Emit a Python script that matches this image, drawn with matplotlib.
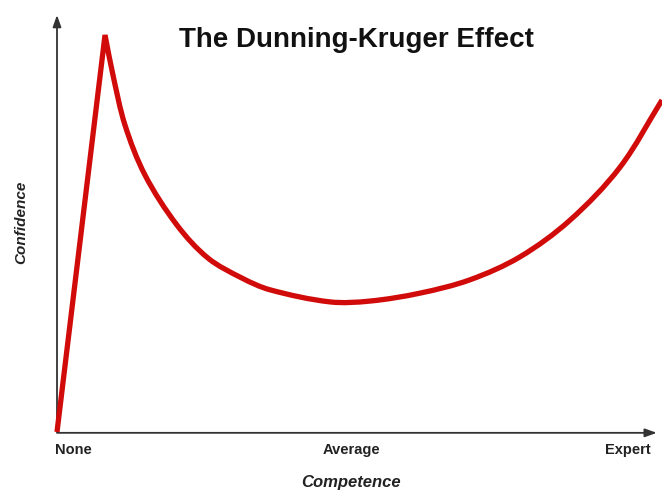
import matplotlib
matplotlib.use("Agg")
import matplotlib.pyplot as plt
import numpy as np
from matplotlib.path import Path
from matplotlib.patches import PathPatch

# curve (competence 0-100, confidence 0-100)
competencia = [0, 8.03, 9.36, 11.37, 14.72, 20.07, 25.25, 30.94, 35.62,
               45.65, 52.34, 60.70, 69.06, 77.42, 85.79, 94.15, 101.17]
confianca = [0, 95.2, 85.6, 73.6, 61.6, 49.6, 41.7, 36.9, 34.1,
             31.2, 31.4, 33.3, 36.5, 42.0, 50.8, 63.5, 79.6]

rotulos_x = ["None", "Average", "Expert"]
posicoes_x = [0, 50, 100]

# escala aproximada em pixels por unidade (para suavizar em espaço de ecrã)
ESC = np.array([5.98, 4.17])


def caminho_suave(xs, ys):
    # subida recta até ao pico, depois Hermite com parametrização por comprimento de corda
    p = np.column_stack([xs, ys]).astype(float) * ESC
    verts = [p[0], p[1]]
    codes = [Path.MOVETO, Path.LINETO]
    r = p[1:]
    n = len(r)
    t = np.concatenate([[0], np.cumsum(np.linalg.norm(np.diff(r, axis=0), axis=1))])
    m = np.zeros_like(r)
    for i in range(n):
        a, b = max(i - 1, 0), min(i + 1, n - 1)
        m[i] = (r[b] - r[a]) / (t[b] - t[a])
    for i in range(n - 1):
        h = t[i + 1] - t[i]
        verts += [r[i] + m[i] * h / 3, r[i + 1] - m[i + 1] * h / 3, r[i + 1]]
        codes += [Path.CURVE4] * 3
    return Path(np.array(verts) / ESC, codes)


fig = plt.figure(figsize=(6.62, 4.91), dpi=100)
ax = fig.add_axes([57 / 662, 59 / 491, 598 / 662, 417 / 491])
ax.set_xlim(0, 100)
ax.set_ylim(0, 100)
for s in ax.spines.values():
    s.set_visible(False)
ax.set_xticks([])
ax.set_yticks([])

# eixos com setas
seta = dict(arrowstyle="-|>,head_length=0.7,head_width=0.25", color="#333333", lw=1.3,
            shrinkA=0, shrinkB=0)
ax.annotate("", xy=(0, 1.0), xytext=(0, 0), xycoords="axes fraction", arrowprops=seta)
ax.annotate("", xy=(1.003, -0.002), xytext=(0, -0.002), xycoords="axes fraction",
            arrowprops=seta)

curva = PathPatch(caminho_suave(competencia, confianca), facecolor="none",
                  edgecolor="#d10a0a", lw=3.8, clip_on=False, joinstyle="miter",
                  capstyle="butt", zorder=3)
ax.add_patch(curva)

alinh = {0: "left", 50: "center", 100: "right"}
desl = {0: -0.3, 50: -0.8, 100: -0.8}
for pos, txt in zip(posicoes_x, rotulos_x):
    ax.text(pos + desl[pos], -2.6, txt, ha=alinh[pos], va="top",
            fontsize=10.5, fontweight="bold", family="Liberation Sans", color="#222222")

ax.text(49.2, -10.3, "Competence", ha="center", va="top", fontsize=12,
        fontstyle="italic", fontweight="bold", family="Liberation Sans", color="#222222")
fig.text(21 / 662, 1 - 222 / 491, "Confidence", rotation=90, ha="center", va="center",
         fontsize=11, fontstyle="italic", fontweight="bold", family="Liberation Sans",
         color="#222222")

fig.text(356 / 662, 1 - 40 / 491, "The Dunning-Kruger Effect", ha="center", va="center",
         fontsize=20, fontweight="bold", family="Liberation Sans", color="#111111")

fig.savefig("out.png", dpi=100)
